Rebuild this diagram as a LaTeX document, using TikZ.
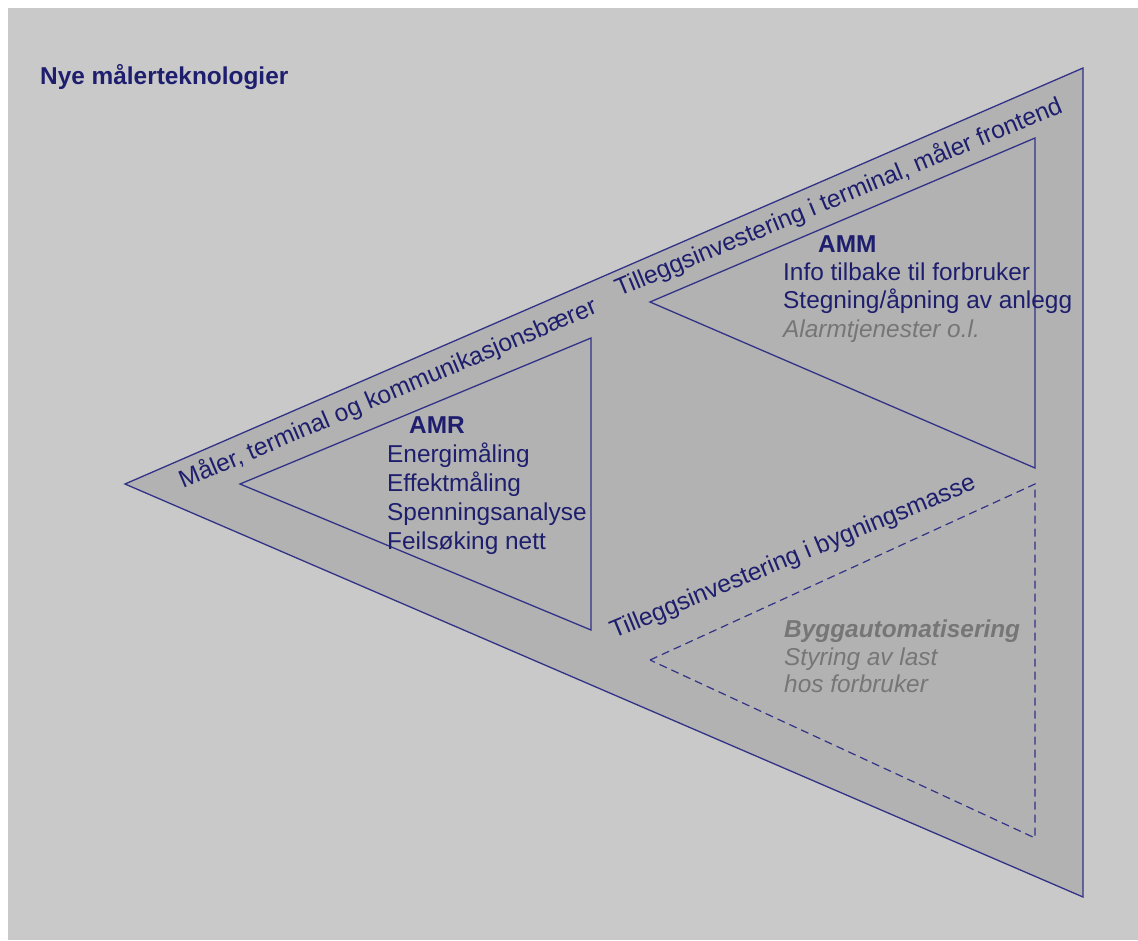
\documentclass[tikz,border=0pt]{standalone}
\usepackage{fontspec}
\setmainfont{Liberation Sans}

\definecolor{bggray}{RGB}{201,201,201}
\definecolor{trigray}{RGB}{178,178,178}
\definecolor{navy}{RGB}{30,30,110}
\definecolor{edgeblue}{RGB}{50,50,135}
\definecolor{softgray}{RGB}{118,118,118}

\tikzset{
	tri/.style={draw=edgeblue, fill=trigray, line width=1.3pt, line join=miter},
	dashtri/.style={tri, line width=1.2pt, dash pattern=on 8pt off 5pt},
	lbl/.style={text=navy, inner sep=0pt, anchor=base west, font=\fontsize{24.4}{28}\selectfont},
	band/.style={lbl, font=\fontsize{24.6}{28}\selectfont},
	grey/.style={lbl, text=softgray, font=\fontsize{24.4}{28}\selectfont\itshape},
}

\begin{document}
\begin{tikzpicture}[x=1pt, y=-1pt]
		\useasboundingbox (0,0) rectangle (1138,940);
		\fill[white] (0,0) rectangle (1138,940);
		\fill[bggray] (8,8) rectangle (1138,940);
		
		%title
		\node[lbl, font=\fontsize{24.4}{28}\selectfont\bfseries] (title) at (40, 84) {Nye målerteknologier};
		
		%triangles
		\draw[tri] (125,484) -- (1083,68) -- (1083,897) -- cycle;
		\draw[tri] (240,484) -- (591,338) -- (591,630) -- cycle;
		\draw[tri] (650,302) -- (1035,138) -- (1035,468) -- cycle;
		\draw[dashtri] (650,660) -- (1035,484) -- (1035,838) -- cycle;
		
		%band texts
		\node[band, rotate=23] (maaler) at (183, 489) {Måler, terminal og kommunikasjonsbærer};
		\node[band, rotate=22.6] (terminal) at (619, 297) {Tilleggsinvestering i terminal, måler frontend};
		\node[band, rotate=22.5] (bygning) at (614, 639) {Tilleggsinvestering i bygningsmasse};
		
		%AMR
		\node[lbl, font=\fontsize{24.4}{28}\selectfont\bfseries] (amr) at (409, 433) {AMR};
		\foreach \txt [count=\i] in {Energimåling, Effektmåling, Spenningsanalyse, Feilsøking nett}{
			\node[lbl] (amr\i) at (387, 433.5+29*\i) {\txt};
		}
		
		%AMM
		\node[lbl, font=\fontsize{24.4}{28}\selectfont\bfseries] (amm) at (818, 252) {AMM};
		\foreach \txt [count=\i] in {Info tilbake til forbruker, Stegning/åpning av anlegg}{
			\node[lbl] (amm\i) at (783, 252+28.3*\i) {\txt};
		}
		\node[grey] (alarm) at (783, 337) {Alarmtjenester o.l.};
		
		%bygg
		\node[grey, font=\fontsize{24.4}{28}\selectfont\bfseries\itshape] (bygg) at (784, 637) {Byggautomatisering};
		\node[grey] (styring) at (784, 665) {Styring av last};
		\node[grey] (hos) at (784, 692) {hos forbruker};
		\end{tikzpicture}
\end{document}
